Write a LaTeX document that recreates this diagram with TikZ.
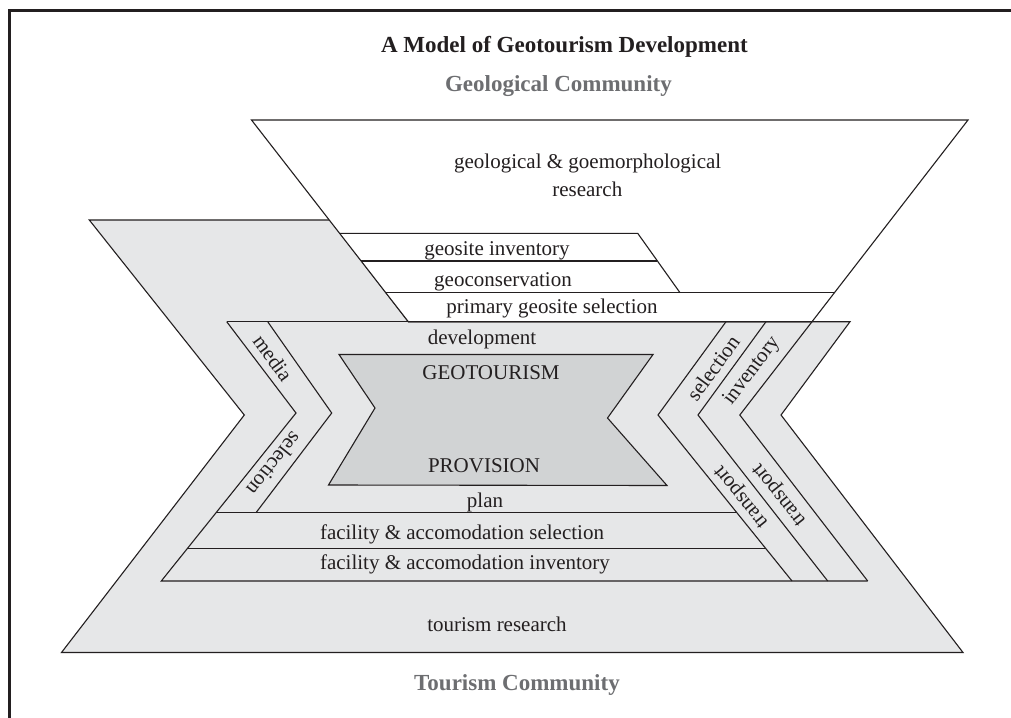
\documentclass[tikz,border=0pt]{standalone}
\usepackage{fontspec}
\setmainfont{Liberation Serif}
\definecolor{ink}{HTML}{231F20}
\definecolor{lgray}{HTML}{E6E7E8}
\definecolor{dgray}{HTML}{D1D3D4}
\definecolor{tgray}{HTML}{6D6E71}
\begin{document}
\begin{tikzpicture}[x=1pt,y=-1pt,
  edgeline/.style={draw=ink, line width=1.1pt, line join=miter},
  lbl/.style={font=\fontsize{21}{25}\selectfont, text=ink, inner sep=0pt, anchor=base},
  rlbl/.style={font=\fontsize{21}{25}\selectfont, text=ink, inner sep=0pt, anchor=center},
  head/.style={font=\bfseries\fontsize{23}{27}\selectfont, inner sep=0pt, anchor=base}]
\useasboundingbox (0,0) rectangle (1011,717);
\fill[white] (0,0) rectangle (1011,717);
% frame
\draw[ink, line width=2.7pt] (9.3,740) -- (9.3,10.3) -- (1040,10.3);
% key points
\coordinate (gTL) at (89.3,220);
\coordinate (gTR) at (330,220);
\coordinate (tBL) at (408.3,321.7);
\coordinate (D0) at (850,321.7);
\coordinate (D1) at (781,415);
\coordinate (gBR) at (963,652.5);
\coordinate (gBL) at (61.5,652.5);
\coordinate (gV) at (244.3,415);
\coordinate (tTL) at (251.5,120);
\coordinate (tTR) at (968,120);
\coordinate (C0) at (812,321.7);
% large tourism shape
\filldraw[edgeline, fill=lgray] (gTL) -- (gTR) -- (tBL) -- (D0) -- (D1) -- (gBR) -- (gBL) -- (gV) -- cycle;
% geological funnel
\filldraw[edgeline, fill=white] (tTL) -- (tTR) -- (C0) -- (tBL) -- cycle;
% geosite strips
\coordinate (s1L) at (339.6,233.3);
\coordinate (s1R) at (637.7,233.3);
\coordinate (s3R) at (680,292.7);
\coordinate (s2L) at (361.1,261);
\coordinate (s2R) at (657.4,261);
\coordinate (s3L) at (385.8,292.7);
\coordinate (s3E) at (834.4,292.7);
\draw[edgeline] (s1L) -- (s1R) -- (s3R);
\draw[edgeline] (s2L) -- (s2R);
\draw[edgeline] (s3L) -- (s3E);
% band
\coordinate (L1a) at (226.7,321.7);
\coordinate (L1b) at (296,413);
\coordinate (L1c) at (161.3,581);
\coordinate (L2a) at (267.7,321.7);
\coordinate (L2b) at (331.7,413);
\coordinate (L2c) at (256,512.7);
\coordinate (Aa) at (726,321.7);
\coordinate (Ab) at (658,415);
\coordinate (Ac) at (792,581);
\coordinate (Ba) at (766,321.7);
\coordinate (Bb) at (698,415);
\coordinate (Bc) at (827.7,581);
\coordinate (Cb) at (739.8,415);
\coordinate (Cc) at (867.7,581);
\coordinate (pL) at (216.1,512.7);
\coordinate (pR) at (736.9,512.7);
\coordinate (fL) at (187.5,548.3);
\coordinate (fR) at (765.6,548.3);
\draw[edgeline] (L1a) -- (tBL);
\draw[edgeline] (L1a) -- (L1b) -- (L1c) -- (Cc);
\draw[edgeline] (L2a) -- (L2b) -- (L2c);
\draw[edgeline] (pL) -- (pR);
\draw[edgeline] (fL) -- (fR);
\draw[edgeline] (Aa) -- (Ab) -- (Ac);
\draw[edgeline] (Ba) -- (Bb) -- (Bc);
\draw[edgeline] (C0) -- (Cb) -- (Cc);
% core
\filldraw[edgeline, fill=dgray] (339,354.5) -- (653,354.5) -- (607.5,418) -- (667,485.5) -- (328.5,485) -- (375,408) -- cycle;
% texts
\node[head, text=ink] (title) at (564.4,52.5) {A Model of Geotourism Development};
\node[head, text=tgray] (geocom) at (558.4,92) {Geological Community};
\node[lbl] (geores1) at (587.7,168.3) {geological \& goemorphological};
\node[lbl] (geores2) at (587.3,196.5) {research};
\node[lbl] (inv) at (497,255) {geosite inventory};
\node[lbl] (cons) at (503,286) {geoconservation};
\node[lbl] (prim) at (552,313.3) {primary geosite selection};
\node[lbl] (dev) at (482,344) {development};
\node[lbl] (geot) at (491,379) {GEOTOURISM};
\node[lbl] (prov) at (484,472.3) {PROVISION};
\node[lbl] (plan) at (485,507) {plan};
\node[lbl] (facs) at (462,539) {facility \& accomodation selection};
\node[lbl] (faci) at (465,569.5) {facility \& accomodation inventory};
\node[lbl] (tres) at (497,631.7) {tourism research};
\node[head, text=tgray] (tcom) at (517,690.5) {Tourism Community};
\node[rlbl, rotate=-54] (media) at (273,358) {media};
\node[rlbl, rotate=-128.7] (lsel) at (274.5,464) {selection};
\node[rlbl, rotate=54] (rsel) at (713,368) {selection};
\node[rlbl, rotate=53] (rinv) at (752,371) {inventory};
\node[rlbl, rotate=128.9] (tr1) at (742,496) {transport};
\node[rlbl, rotate=128.5] (tr2) at (780,494) {transport};
\end{tikzpicture}
\end{document}
